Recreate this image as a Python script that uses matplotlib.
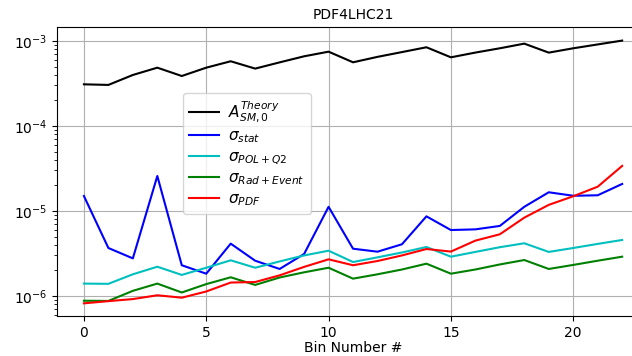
import matplotlib
matplotlib.use("Agg")
import matplotlib.pyplot as plt
import numpy as np

bins = list(range(23))

a_theory = [3.09e-4, 3.04e-4, 3.98e-4, 4.85e-4, 3.87e-4, 4.85e-4, 5.77e-4, 4.73e-4,
            5.6e-4, 6.6e-4, 7.48e-4, 5.61e-4, 6.5e-4, 7.4e-4, 8.43e-4, 6.42e-4,
            7.3e-4, 8.2e-4, 9.3e-4, 7.29e-4, 8.2e-4, 9.1e-4, 1.01e-3]

sigma_stat = [1.5e-5, 3.67e-6, 2.77e-6, 2.58e-5, 2.3e-6, 1.83e-6, 4.13e-6, 2.6e-6,
              2.08e-6, 3.12e-6, 1.12e-5, 3.6e-6, 3.32e-6, 4.06e-6, 8.65e-6, 5.97e-6,
              6.08e-6, 6.67e-6, 1.12e-5, 1.66e-5, 1.51e-5, 1.53e-5, 2.08e-5]

sigma_pol_q2 = [1.4e-6, 1.39e-6, 1.8e-6, 2.21e-6, 1.77e-6, 2.15e-6, 2.63e-6, 2.15e-6,
                2.55e-6, 3.0e-6, 3.41e-6, 2.51e-6, 2.85e-6, 3.25e-6, 3.77e-6, 2.9e-6,
                3.3e-6, 3.75e-6, 4.17e-6, 3.3e-6, 3.67e-6, 4.1e-6, 4.56e-6]

sigma_rad_event = [8.8e-7, 8.75e-7, 1.15e-6, 1.4e-6, 1.1e-6, 1.38e-6, 1.66e-6, 1.35e-6,
                   1.65e-6, 1.9e-6, 2.15e-6, 1.6e-6, 1.8e-6, 2.05e-6, 2.4e-6, 1.83e-6,
                   2.05e-6, 2.35e-6, 2.65e-6, 2.08e-6, 2.32e-6, 2.6e-6, 2.9e-6]

sigma_pdf = [8.2e-7, 8.7e-7, 9.2e-7, 1.02e-6, 9.55e-7, 1.13e-6, 1.44e-6, 1.46e-6,
             1.75e-6, 2.2e-6, 2.7e-6, 2.3e-6, 2.58e-6, 3.0e-6, 3.57e-6, 3.33e-6,
             4.48e-6, 5.32e-6, 8.35e-6, 1.18e-5, 1.49e-5, 1.93e-5, 3.39e-5]

fig = plt.figure(figsize=(6.32, 3.56), dpi=100)
ax = fig.add_axes([0.0902, 0.1124, 0.9368, 0.8118])

ax.plot(bins, a_theory, color="black", lw=1.5, label=r"$A_{SM,0}^{Theory}$")
ax.plot(bins, sigma_stat, color="blue", lw=1.5, label=r"$\sigma_{stat}$")
ax.plot(bins, sigma_pol_q2, color="c", lw=1.5, label=r"$\sigma_{POL+Q2}$")
ax.plot(bins, sigma_rad_event, color="green", lw=1.5, label=r"$\sigma_{Rad+Event}$")
ax.plot(bins, sigma_pdf, color="red", lw=1.5, label=r"$\sigma_{PDF}$")

ax.set_yscale("log")
ax.set_xlim(-1.1, 23.1)
ax.set_ylim(5.82e-7, 1.46e-3)
ax.set_xticks([0, 5, 10, 15, 20])
ax.grid(True, which="major", color="#b0b0b0", lw=0.8)
ax.set_xlabel("Bin Number #", fontsize=10, labelpad=1)
ax.set_title("PDF4LHC21", fontsize=10)

ax.legend(loc="upper left", bbox_to_anchor=(0.289, 0.738),
          bbox_transform=fig.transFigure, borderaxespad=0, fontsize=11,
          labelspacing=0.25, handletextpad=0.6)

fig.savefig("out.png", dpi=100)
